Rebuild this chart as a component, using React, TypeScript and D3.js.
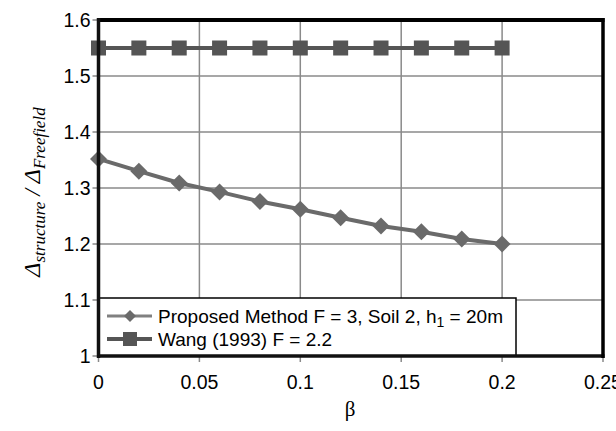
import React from "react";
import * as d3 from "d3";

const betaValues = [0, 0.02, 0.04, 0.06, 0.08, 0.1, 0.12, 0.14, 0.16, 0.18, 0.2];
const proposedValues = [1.352, 1.33, 1.309, 1.293, 1.276, 1.262, 1.247, 1.232, 1.222, 1.209, 1.2];
const wangValues = [1.55, 1.55, 1.55, 1.55, 1.55, 1.55, 1.55, 1.55, 1.55, 1.55, 1.55];
const xTicks = [0, 0.05, 0.1, 0.15, 0.2, 0.25];
const yTicks = [1, 1.1, 1.2, 1.3, 1.4, 1.5, 1.6];

const W = 616, H = 431;
const L = 98.5, R = 603, T = 20, B = 356;

export default function App() {
  const x = d3.scaleLinear().domain([0, 0.25]).range([L, R]);
  const y = d3.scaleLinear().domain([1, 1.6]).range([B, T]);
  const line = d3.line<number>().x((_, i) => x(betaValues[i])).y((v) => y(v));
  const diamond = (cx: number, cy: number, r: number) =>
    `M${cx},${cy - r}L${cx + r},${cy}L${cx},${cy + r}L${cx - r},${cy}Z`;
  const font = "'Liberation Sans', Arial, sans-serif";
  const lgTop = 298, lgRight = 516;
  return (
    <svg width={W} height={H} style={{ position: "absolute", left: 0, top: 0, background: "#fff" }}>
      <rect x={0} y={0} width={W} height={H} fill="#fff" />
      {/* grid */}
      {xTicks.map((t) => (
        <line key={"gx" + t} x1={x(t)} x2={x(t)} y1={T} y2={B} stroke="#8a8a8a" strokeWidth={1.5} />
      ))}
      {yTicks.map((t) => (
        <line key={"gy" + t} x1={L} x2={R} y1={y(t)} y2={y(t)} stroke="#8a8a8a" strokeWidth={1.5} />
      ))}
      {/* tick marks */}
      {yTicks.map((t) => (
        <line key={"ty" + t} x1={L - 6} x2={L} y1={y(t)} y2={y(t)} stroke="#8a8a8a" strokeWidth={1.5} />
      ))}
      {xTicks.map((t) => (
        <line key={"tx" + t} x1={x(t)} x2={x(t)} y1={B} y2={B + 6} stroke="#8a8a8a" strokeWidth={1.5} />
      ))}
      {/* series */}
      <path d={line(wangValues) || ""} fill="none" stroke="#555" strokeWidth={4} />
      {wangValues.map((v, i) => (
        <rect key={"w" + i} x={x(betaValues[i]) - 7.5} y={y(v) - 7.5} width={15} height={15} fill="#555" />
      ))}
      <path d={line(proposedValues) || ""} fill="none" stroke="#6a6a6a" strokeWidth={4} />
      {proposedValues.map((v, i) => (
        <path key={"p" + i} d={diamond(x(betaValues[i]), y(v), 8.5)} fill="#6a6a6a" />
      ))}
      {/* legend */}
      <rect x={L} y={lgTop} width={lgRight - L} height={B - lgTop} fill="#fff" stroke="#000" strokeWidth={1.5} />
      <line x1={107} x2={152} y1={316} y2={316} stroke="#808080" strokeWidth={3} />
      <path d={diamond(130, 316, 6)} fill="#6a6a6a" />
      <line x1={107} x2={152} y1={339} y2={339} stroke="#555" strokeWidth={4} />
      <rect x={123} y={332} width={14} height={14} fill="#555" />
      <text x={158} y={323} fontFamily={font} fontSize={19} fill="#000" textLength={345} lengthAdjust="spacingAndGlyphs">
        Proposed Method F = 3, Soil 2, h<tspan fontSize={14} dy={4}>1</tspan>
        <tspan dy={-4}> = 20m</tspan>
      </text>
      <text x={158} y={346} fontFamily={font} fontSize={19} fill="#000">
        Wang (1993) F = 2.2
      </text>
      {/* frame */}
      <line x1={L - 1} x2={R + 1.5} y1={T} y2={T} stroke="#000" strokeWidth={4} />
      <line x1={L} x2={L} y1={T - 2} y2={B + 2} stroke="#111" strokeWidth={3.5} />
      <line x1={L - 1} x2={R + 1.5} y1={B} y2={B} stroke="#111" strokeWidth={3.5} />
      <line x1={R} x2={R} y1={T - 2} y2={B + 2} stroke="#000" strokeWidth={3.5} />
      {/* tick labels */}
      {yTicks.map((t) => (
        <text key={"ly" + t} x={L - 8} y={y(t) + 7} textAnchor="end" fontFamily={font} fontSize={19.5} fill="#000">
          {d3.format("")(t)}
        </text>
      ))}
      {xTicks.map((t) => (
        <text key={"lx" + t} x={x(t)} y={B + 33} textAnchor="middle" fontFamily={font} fontSize={19.5} fill="#000">
          {d3.format("")(t)}
        </text>
      ))}
      {/* axis titles */}
      <text x={350} y={416} textAnchor="middle" fontFamily="'Liberation Serif', 'Times New Roman', serif" fontSize={21} fill="#000">
        β
      </text>
      <text
        transform="translate(40,192) rotate(-90)"
        textAnchor="middle"
        fontFamily="'Liberation Serif', 'Times New Roman', serif"
        fontStyle="italic"
        fontSize={24}
        fill="#000"
      >
        Δ<tspan fontSize={17} dy={5}>structure</tspan>
        <tspan dy={-5}> / Δ</tspan>
        <tspan fontSize={17} dy={5}>Freefield</tspan>
      </text>
    </svg>
  );
}
